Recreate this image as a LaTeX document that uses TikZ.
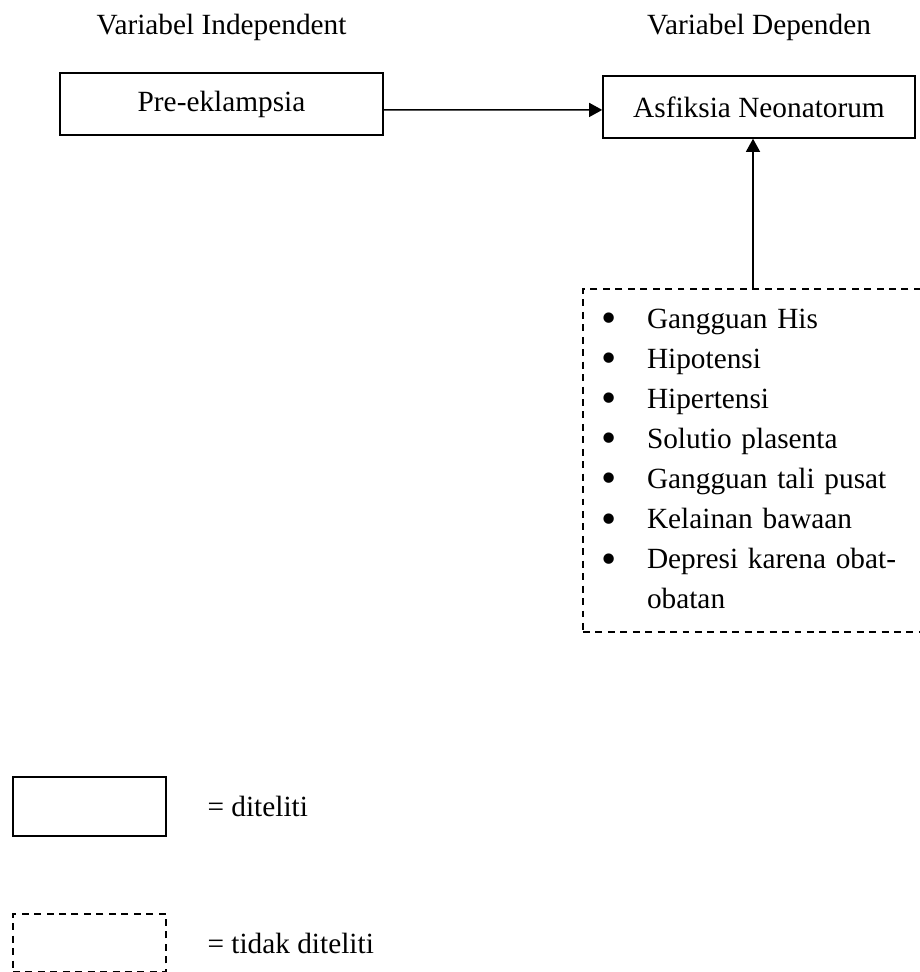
\documentclass[tikz,border=0pt]{standalone}
\usepackage{fontspec}
\setmainfont{Liberation Serif}
\usetikzlibrary{positioning,arrows.meta}
\newcommand{\bigbullet}{\hspace*{-1.2pt}\raisebox{-2.1pt}{\fontsize{20.6}{19}\selectfont\textbullet}}
\begin{document}
\begin{tikzpicture}[>={Triangle[length=6.2pt,width=6.6pt]}, font=\fontsize{13.9}{19}\selectfont, line width=0.7pt,
		box/.style={draw, minimum height=1.033cm},
		dbox/.style={draw, dash pattern=on 3.3pt off 2.6pt}]
			\useasboundingbox (0,0) rectangle (15.317,-16.2);
			\node[box, minimum width=5.383cm] (pre) at (3.692,-1.733) {Pre-eklampsia};
			\node[box, minimum width=5.2cm] (asf) at (12.65,-1.783) {Asfiksia Neonatorum};
			\node[above=0.4cm of pre] (indep) {Variabel Independent};
			\node (dep) at (asf |- indep) {Variabel Dependen};
			%\node[dbox] (list) ...
			\node[dbox, text width=5.167cm, inner xsep=0.35cm, minimum height=5.717cm, align=left] (list) at (12.65,-7.675) {%
				\begin{tabular}{@{}p{0.717cm}@{}p{4.13cm}@{}}
				\bigbullet & Gangguan His\\
				\bigbullet & Hipotensi\\
				\bigbullet & Hipertensi\\
				\bigbullet & Solutio plasenta\\
				\bigbullet & Gangguan tali pusat\\
				\bigbullet & Kelainan bawaan\\
				\bigbullet & \makebox[4.13cm][s]{Depresi karena obat-}\\
				 & obatan
				\end{tabular}};
			\draw[->] ([yshift=-2.8pt]pre.east) -- ([yshift=-1.4pt]asf.west);
			\draw[->] ([xshift=-0.1cm]list.north) -- ([xshift=-0.1cm]asf.south);
			% keterangan
			\node[box, minimum width=2.55cm, minimum height=0.983cm] (legsolid) at (1.492,-13.442) {};
			\node[dbox, minimum width=2.55cm, minimum height=0.967cm] (legdash) at (1.492,-15.717) {};
			\node[right=0.55cm of legsolid] (legsolidtxt) {= diteliti};
			\node[right=0.55cm of legdash] (legdashtxt) {= tidak diteliti};
		\end{tikzpicture}
\end{document}
